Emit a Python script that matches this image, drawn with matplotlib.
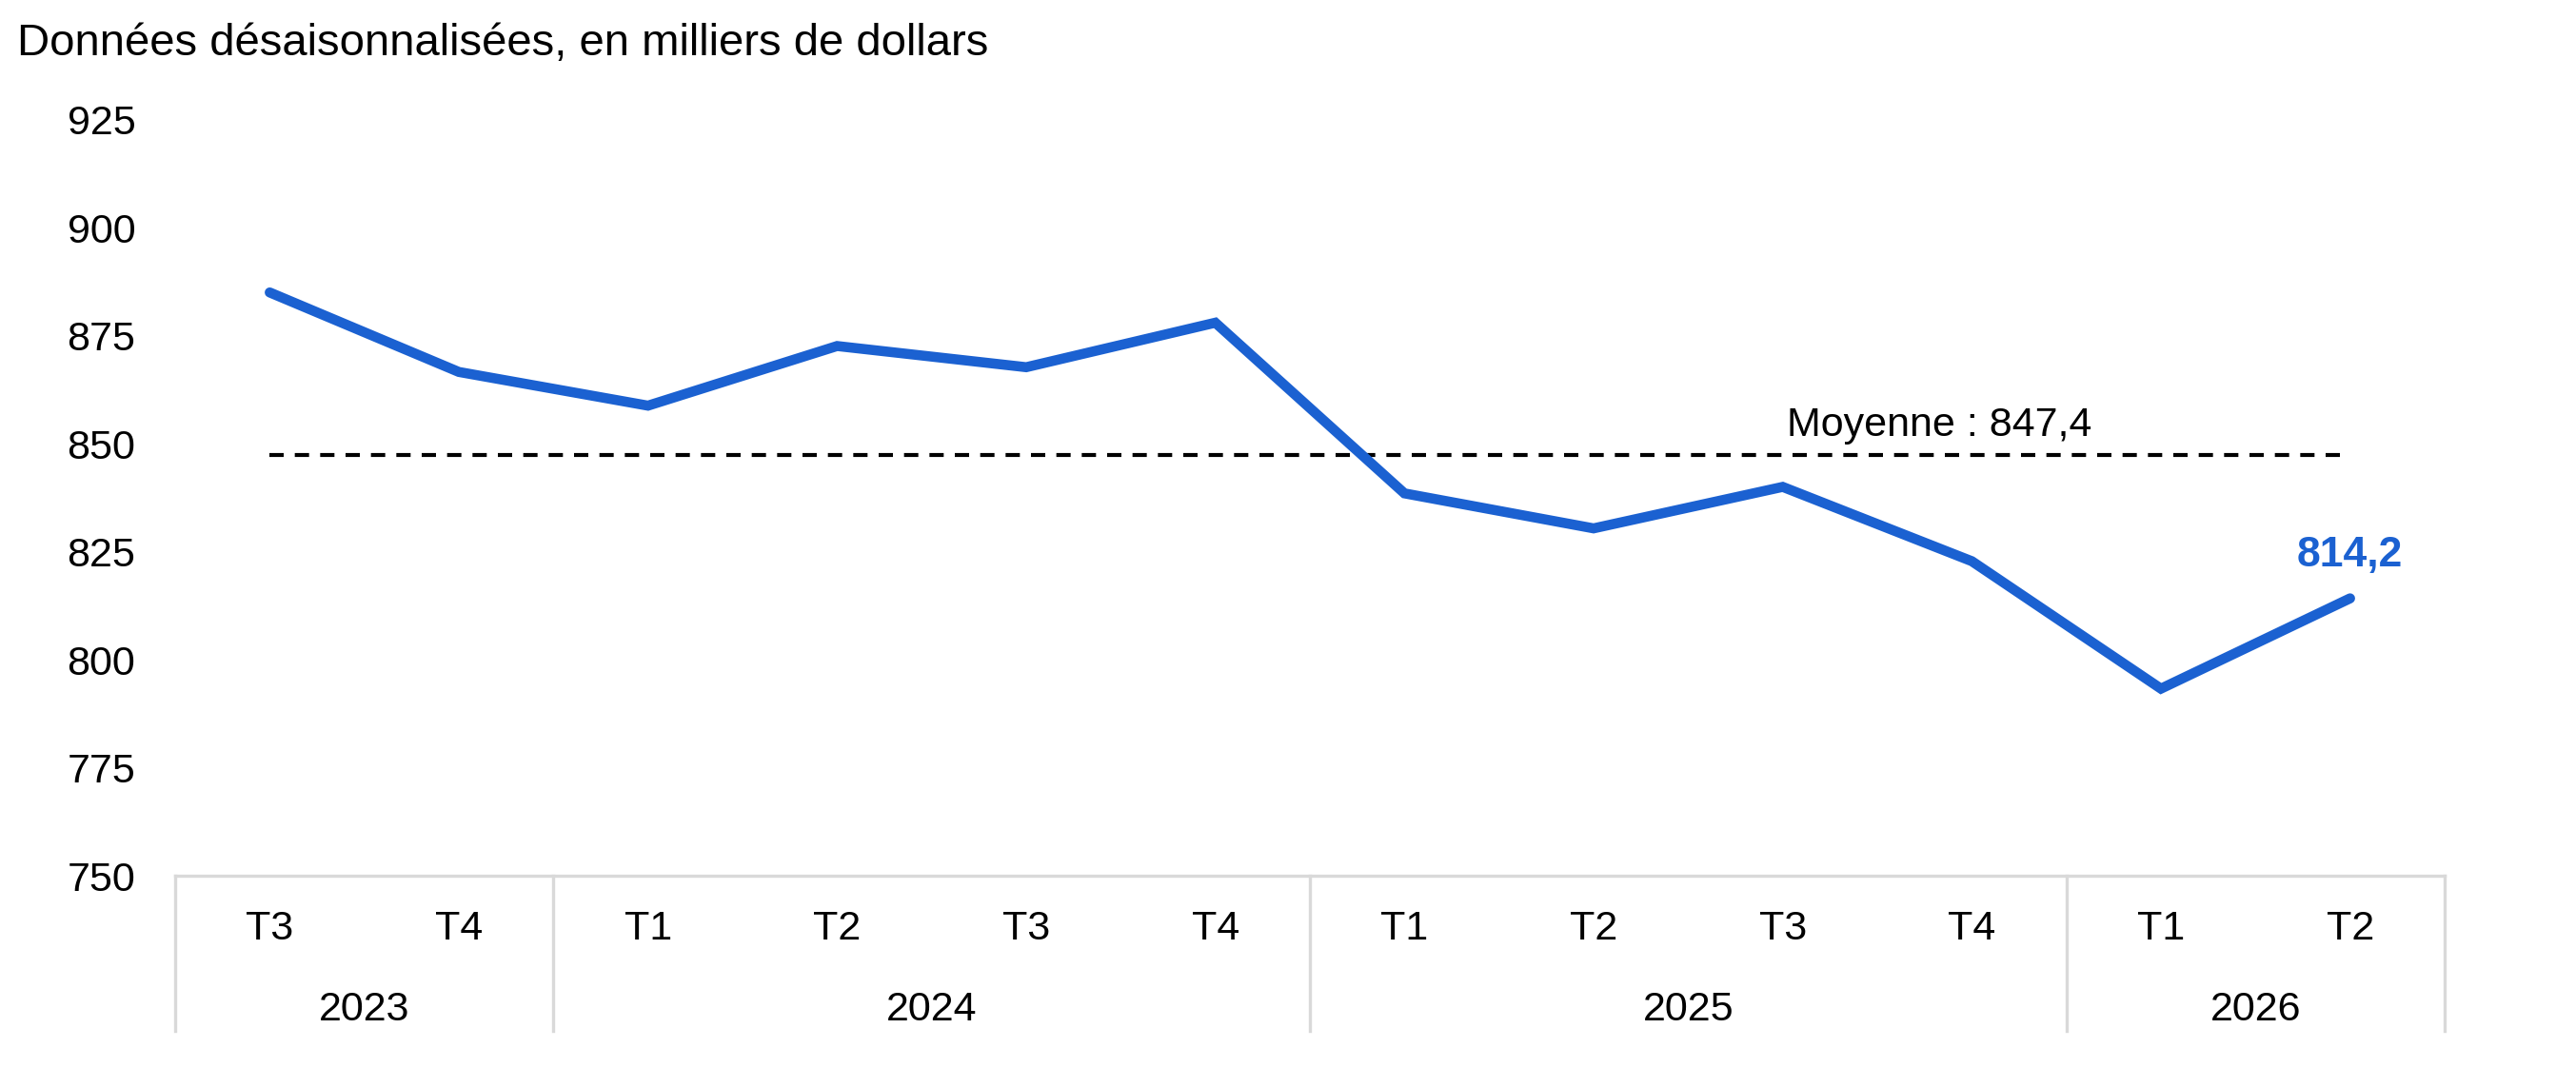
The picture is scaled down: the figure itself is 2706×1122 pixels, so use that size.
import matplotlib
matplotlib.use("Agg")
import matplotlib.pyplot as plt
import matplotlib.transforms as mtransforms

plt.rcParams['font.family'] = ['Liberation Sans', 'DejaVu Sans']

# Data
quarters = ["T3", "T4", "T1", "T2", "T3", "T4", "T1", "T2", "T3", "T4", "T1", "T2"]
years = ["2023", "2024", "2025", "2026"]
year_counts = [2, 4, 4, 2]
values = [885.0, 866.6, 858.8, 872.6, 867.7, 878.0, 838.5, 830.4, 840.0, 822.8, 793.3, 814.2]
mean_value = 847.4
y_ticks = [750, 775, 800, 825, 850, 875, 900, 925]

blue = "#1b61d1"
grey = "#d9d9d9"

fig = plt.figure(figsize=(13.53, 5.61), dpi=200)
ax = fig.add_axes([0.068, 0.180, 0.881, 0.708])

x = list(range(len(values)))
ax.plot(x, values, color=blue, linewidth=3.8, solid_capstyle='round',
        solid_joinstyle='miter', zorder=3)

# average line
ax.plot([x[0], x[-1]], [mean_value, mean_value], color="black", linewidth=1.5,
        linestyle=(0, (3.6, 2.8)), zorder=2)
ax.annotate("Moyenne : " + f"{mean_value:.1f}".replace(".", ","),
            xy=(8.83, mean_value), xytext=(0, 4), textcoords="offset points",
            ha="center", va="bottom", fontsize=15.5, color="black")

# last value label
ax.annotate(f"{values[-1]:.1f}".replace(".", ","), xy=(x[-1], values[-1]),
            xytext=(0, 9), textcoords="offset points", ha="center", va="bottom",
            fontsize=16, fontweight="bold", color=blue)

ax.set_xlim(-0.5, len(values) - 0.5)
ax.set_ylim(750, 925)
ax.set_yticks(y_ticks)
ax.set_yticklabels([str(t) for t in y_ticks], fontsize=15.5)
ax.tick_params(axis="y", length=0, pad=15)
ax.set_xticks([])

for side in ["left", "right", "top"]:
    ax.spines[side].set_visible(False)
ax.spines["bottom"].set_color(grey)
ax.spines["bottom"].set_linewidth(1.2)

# two-level category axis
trans = mtransforms.blended_transform_factory(ax.transData, ax.transAxes)
for i, q in enumerate(quarters):
    ax.text(i, -0.07, q, transform=trans, ha="center", va="center", fontsize=15.5)

start = -0.5
ax.plot([start, start], [0, -0.205], transform=trans, color=grey, linewidth=1.2, clip_on=False)
for yr, n in zip(years, year_counts):
    end = start + n
    ax.text((start + end) / 2, -0.177, yr, transform=trans, ha="center", va="center",
            fontsize=15.5)
    ax.plot([end, end], [0, -0.205], transform=trans, color=grey, linewidth=1.2, clip_on=False)
    start = end

fig.text(0.0065, 1 - 58 / 1122, "Données désaisonnalisées, en milliers de dollars",
         ha="left", va="baseline", fontsize=17)

fig.savefig("out.png", dpi=200)
